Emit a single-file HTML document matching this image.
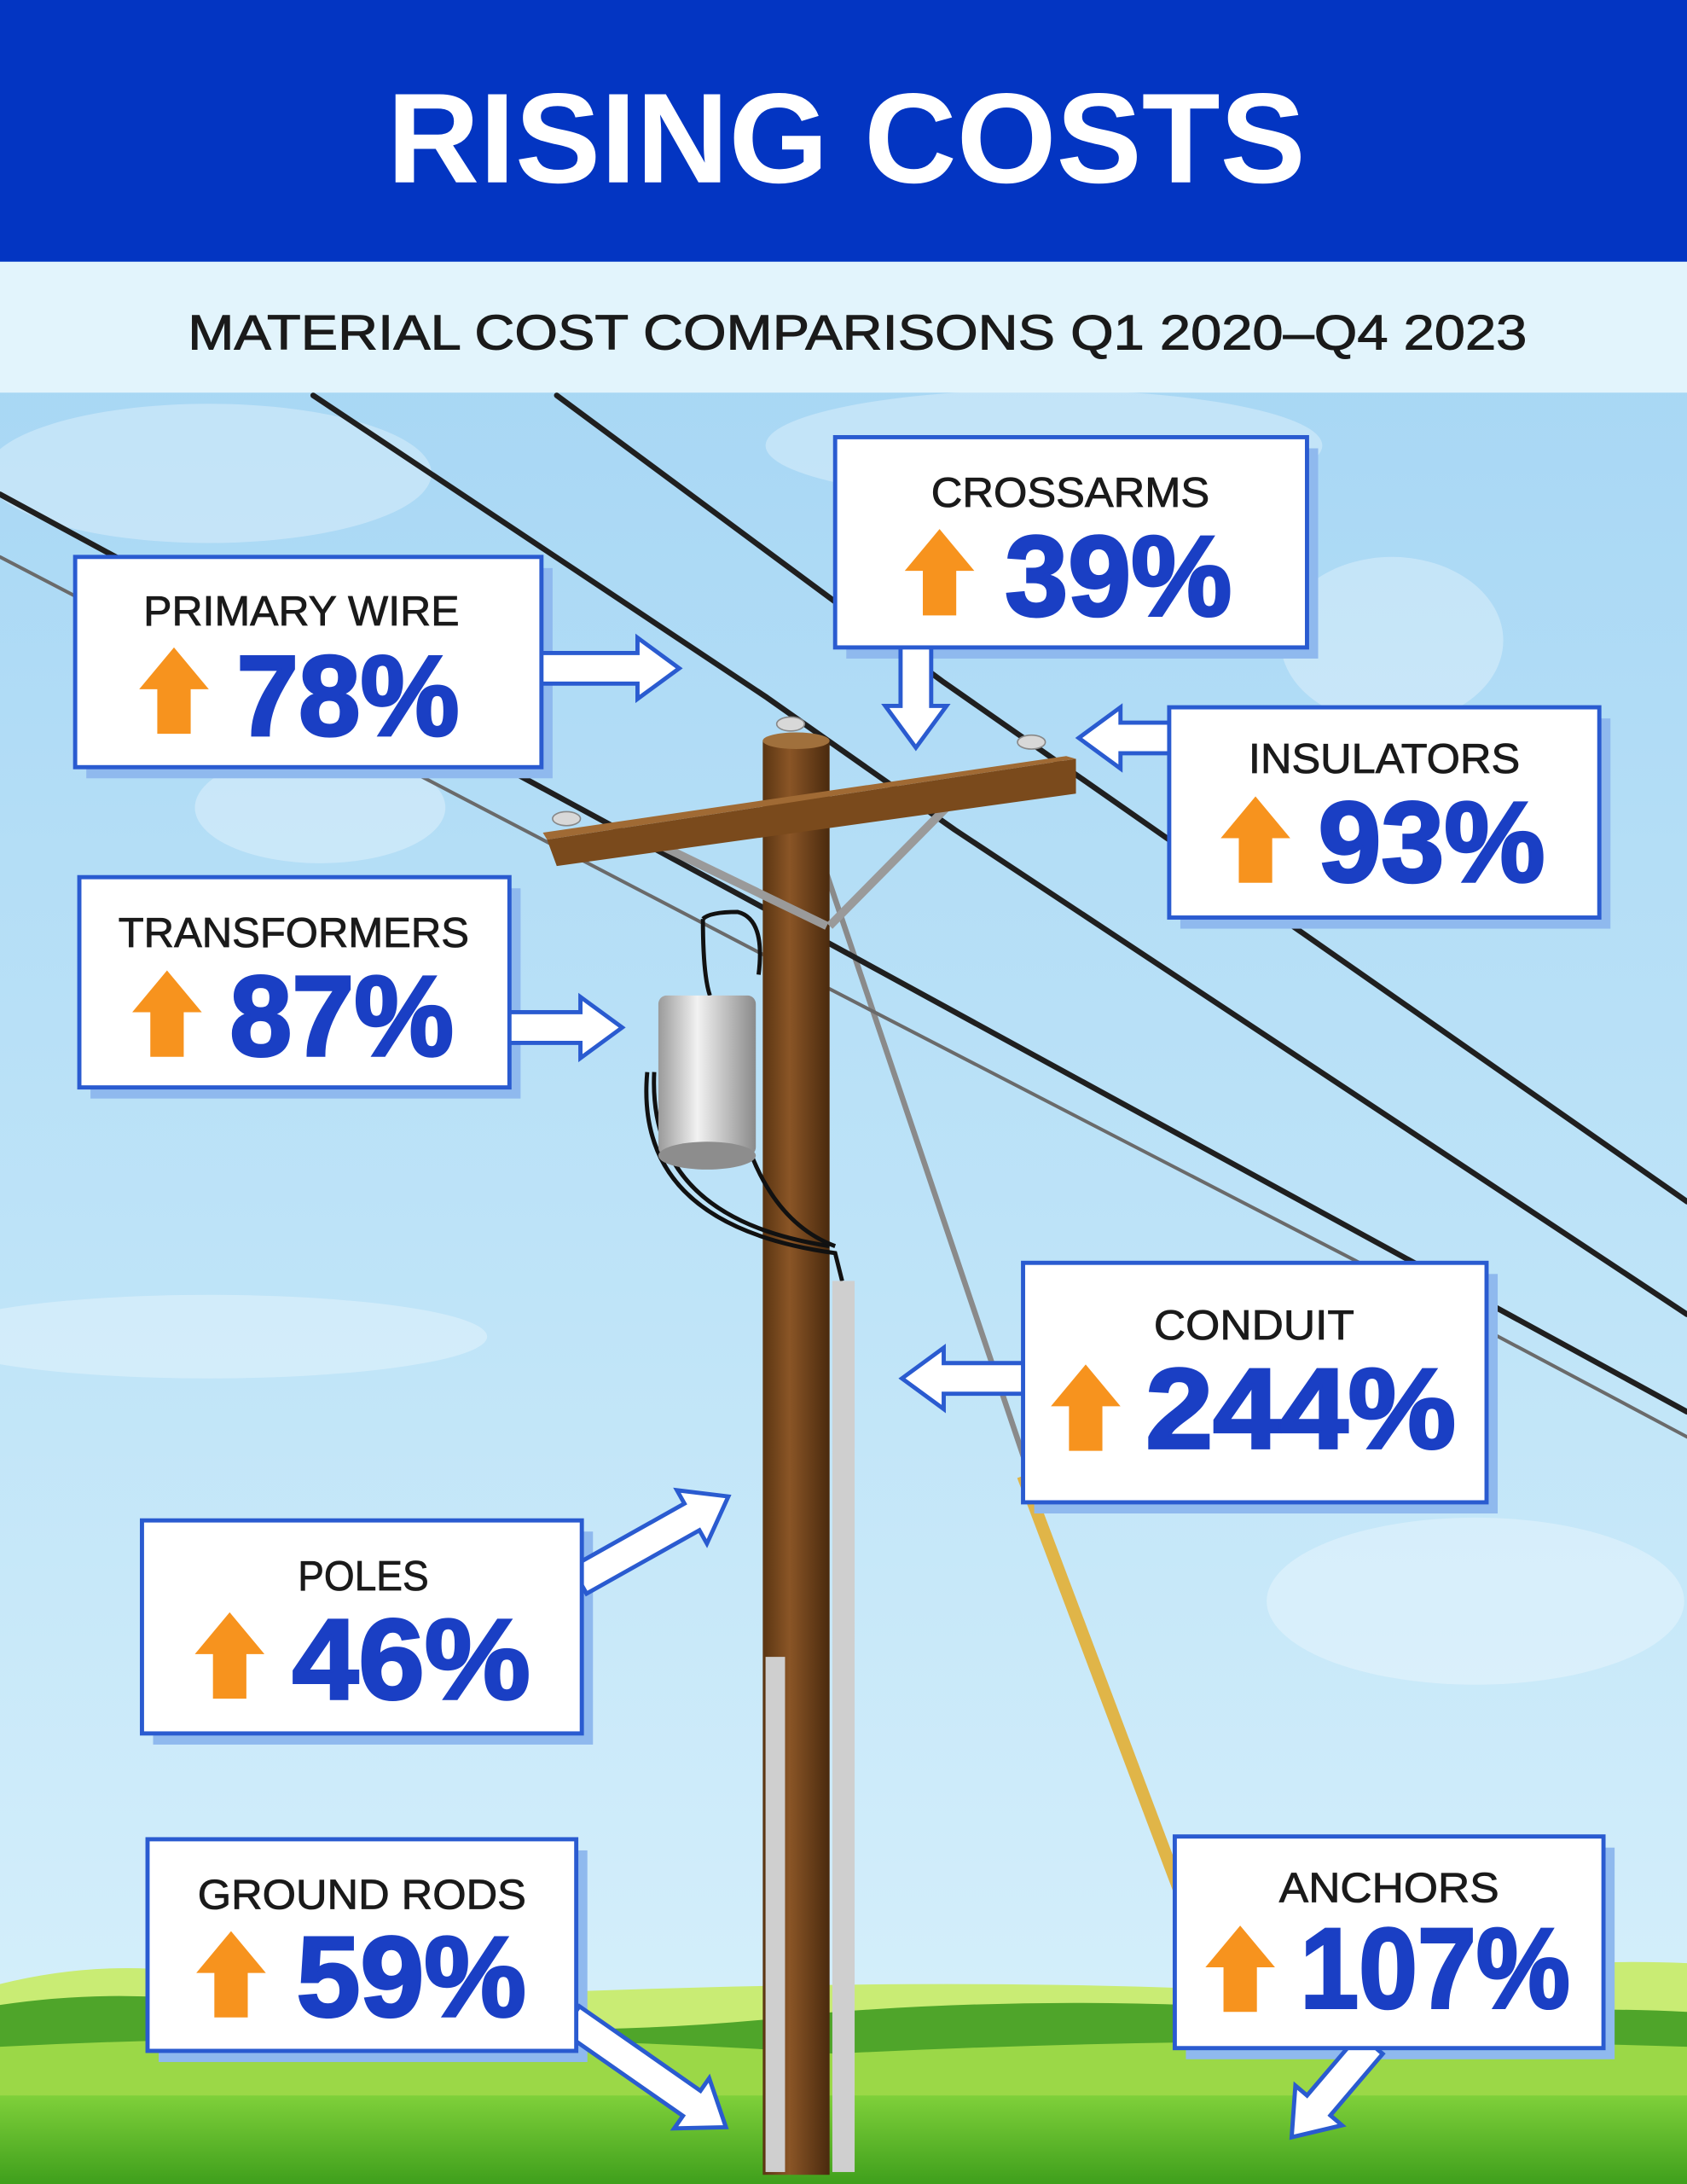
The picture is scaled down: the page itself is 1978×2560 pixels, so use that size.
<!DOCTYPE html>
<html><head><meta charset="utf-8"><style>
html,body{margin:0;padding:0;width:1978px;height:2560px;overflow:hidden}
svg{display:block}
</style></head><body>
<svg width="1978" height="2560" viewBox="0 0 1212 1568.6" preserveAspectRatio="none" xmlns="http://www.w3.org/2000/svg" font-family="Liberation Sans, sans-serif">
<defs>
<linearGradient id="sky" x1="0" y1="0" x2="0" y2="1">
<stop offset="0" stop-color="#9fd2f3"/><stop offset="0.6" stop-color="#bfe4f8"/><stop offset="1" stop-color="#d9f1fb"/>
</linearGradient>
<linearGradient id="pole" x1="0" y1="0" x2="1" y2="0">
<stop offset="0" stop-color="#5a3512"/><stop offset="0.4" stop-color="#8a5526"/><stop offset="1" stop-color="#4a2a0e"/>
</linearGradient>
<linearGradient id="grass" x1="0" y1="0" x2="0" y2="1">
<stop offset="0" stop-color="#7fd03a"/><stop offset="1" stop-color="#3f9f1c"/>
</linearGradient>
<linearGradient id="xf" x1="0" y1="0" x2="1" y2="0">
<stop offset="0" stop-color="#9a9a9a"/><stop offset="0.4" stop-color="#f2f2f2"/><stop offset="1" stop-color="#8a8a8a"/>
</linearGradient>
<g id="up"><polygon points="25,0 50,30 37,30 37,62 13,62 13,30 0,30" fill="#f7931e"/></g>
</defs>
<rect width="1212" height="1568.6" fill="url(#sky)"/>
<g fill="#ffffff" opacity="0.3">
<ellipse cx="150" cy="340" rx="160" ry="50"/><ellipse cx="750" cy="320" rx="200" ry="40"/>
<ellipse cx="1000" cy="460" rx="80" ry="60"/><ellipse cx="230" cy="580" rx="90" ry="40"/>
<ellipse cx="1060" cy="1150" rx="150" ry="60"/><ellipse cx="150" cy="960" rx="200" ry="30"/>
</g>
<rect x="0" y="0" width="1212" height="188" fill="#0335c2"/>
<text x="608" y="131" text-anchor="middle" font-size="92" font-weight="bold" fill="#fff" textLength="660" lengthAdjust="spacingAndGlyphs">RISING COSTS</text>
<rect x="0" y="188" width="1212" height="94" fill="#e2f4fc"/>
<text x="616" y="251" text-anchor="middle" font-size="35" fill="#1a1a1a" stroke="#1a1a1a" stroke-width="0.6" textLength="962" lengthAdjust="spacingAndGlyphs">MATERIAL COST COMPARISONS Q1 2020–Q4 2023</text>
<line x1="592" y1="622" x2="740" y2="1060" stroke="#8a8a8a" stroke-width="4"/>
<line x1="735" y1="1060" x2="918" y2="1545" stroke="#e0b548" stroke-width="9"/>
<g fill="none" stroke-linecap="round" stroke-linejoin="round">
<polyline points="225,284 551,501 686,596 1212,944" stroke="#1f1f1f" stroke-width="4"/>
<polyline points="400,284 678,490 1212,863" stroke="#1f1f1f" stroke-width="4"/>
<polyline points="0,355 591,675 1212,1014" stroke="#1f1f1f" stroke-width="4"/>
<polyline points="0,400 551,687 973,905 1212,1032" stroke="#6a6a6a" stroke-width="2.5"/>
</g>
<path d="M0,1425 Q80,1405 160,1420 Q300,1440 420,1430 Q700,1420 900,1430 Q1100,1405 1212,1410 L1212,1568.6 L0,1568.6Z" fill="#c9ec74"/>
<path d="M0,1440 Q100,1425 200,1445 Q400,1470 600,1445 Q800,1430 1000,1450 Q1120,1440 1212,1445 L1212,1568.6 L0,1568.6Z" fill="#4fa52a"/>
<path d="M0,1470 Q300,1455 600,1475 Q900,1460 1212,1470 L1212,1568.6 L0,1568.6Z" fill="#9bd847"/>
<rect x="0" y="1505" width="1212" height="64" fill="url(#grass)"/>
<rect x="548" y="532" width="48" height="1030" fill="url(#pole)"/>
<ellipse cx="572" cy="532" rx="24" ry="6" fill="#a0703c"/>
<line x1="470" y1="605" x2="594" y2="665" stroke="#9a9a9a" stroke-width="6"/>
<line x1="680" y1="580" x2="596" y2="665" stroke="#9a9a9a" stroke-width="6"/>
<polygon points="393,603 773,545 773,570 400,622" fill="#7a4a1c"/>
<polygon points="393,603 773,545 766,543 390,598" fill="#a06a34"/>
<g fill="#d8d8d8" stroke="#888" stroke-width="1">
<ellipse cx="407" cy="588" rx="10" ry="5"/><ellipse cx="568" cy="520" rx="10" ry="5"/><ellipse cx="741" cy="533" rx="10" ry="5"/>
</g>
<g fill="none" stroke="#111" stroke-width="3">
<path d="M505,660 Q505,700 510,715"/>
<path d="M545,700 Q550,660 530,655 Q510,655 505,660"/>
<path d="M465,770 Q455,880 600,900 L605,920"/>
<path d="M470,770 Q465,875 596,895"/>
<path d="M540,830 Q560,880 600,895"/>
</g>
<rect x="473" y="715" width="70" height="115" rx="6" fill="url(#xf)"/>
<ellipse cx="508" cy="830" rx="35" ry="10" fill="#8d8d8d"/>
<rect x="598" y="920" width="16" height="640" fill="#cfcfcf"/>
<rect x="550" y="1190" width="14" height="370" fill="#cfcfcf"/>
<g fill="#8fb9ee">
<rect x="62" y="408" width="335" height="151"/>
<rect x="608" y="322" width="339" height="151"/>
<rect x="848" y="516" width="309" height="151"/>
<rect x="65" y="638" width="309" height="151"/>
<rect x="743" y="915" width="333" height="172"/>
<rect x="110" y="1100" width="316" height="153"/>
<rect x="114" y="1329" width="308" height="152"/>
<rect x="852" y="1327" width="308" height="152"/>
</g>
<g fill="#fff" stroke="#2a5bd0" stroke-width="3" stroke-linejoin="miter">
<polygon transform="translate(388,480) rotate(0)" points="0,-11 70,-11 70,-22 100,0 70,22 70,11 0,11"/>
<polygon transform="translate(658,464) rotate(90)" points="0,-11 43,-11 43,-22 73,0 43,22 43,11 0,11"/>
<polygon transform="translate(842,530) rotate(180)" points="0,-11 37,-11 37,-22 67,0 37,22 37,11 0,11"/>
<polygon transform="translate(364,738) rotate(0)" points="0,-11 53,-11 53,-22 83,0 53,22 53,11 0,11"/>
<polygon transform="translate(737,990) rotate(180)" points="0,-11 59,-11 59,-22 89,0 59,22 59,11 0,11"/>
<polygon transform="translate(416,1135) rotate(-29.3)" points="0,-11 93,-11 93,-22 123,0 93,22 93,11 0,11"/>
<polygon transform="translate(410,1450) rotate(34.9)" points="0,-11 106,-11 106,-22 136,0 106,22 106,11 0,11"/>
<polygon transform="translate(985,1468) rotate(130.4)" points="0,-11 58,-11 58,-22 88,0 58,22 58,11 0,11"/>
</g>
<g fill="#fff" stroke="#2a5bd0" stroke-width="3">
<rect x="54" y="400" width="335" height="151"/>
<rect x="600" y="314" width="339" height="151"/>
<rect x="840" y="508" width="309" height="151"/>
<rect x="57" y="630" width="309" height="151"/>
<rect x="735" y="907" width="333" height="172"/>
<rect x="102" y="1092" width="316" height="153"/>
<rect x="106" y="1321" width="308" height="152"/>
<rect x="844" y="1319" width="308" height="152"/>
</g>
<g font-size="30" fill="#1a1a1a" stroke="#1a1a1a" stroke-width="0.5">
<text x="103" y="449" textLength="227" lengthAdjust="spacingAndGlyphs">PRIMARY WIRE</text>
<text x="669" y="364" textLength="200" lengthAdjust="spacingAndGlyphs">CROSSARMS</text>
<text x="897" y="555" textLength="195" lengthAdjust="spacingAndGlyphs">INSULATORS</text>
<text x="85" y="680" textLength="252" lengthAdjust="spacingAndGlyphs">TRANSFORMERS</text>
<text x="829" y="962" textLength="144" lengthAdjust="spacingAndGlyphs">CONDUIT</text>
<text x="214" y="1142" textLength="94" lengthAdjust="spacingAndGlyphs">POLES</text>
<text x="142" y="1371" textLength="236" lengthAdjust="spacingAndGlyphs">GROUND RODS</text>
<text x="919" y="1366" textLength="158" lengthAdjust="spacingAndGlyphs">ANCHORS</text>
</g>
<g font-size="82" font-weight="bold" fill="#1a3fc4" stroke="#1a3fc4" stroke-width="2">
<text x="170" y="528" textLength="160" lengthAdjust="spacingAndGlyphs">78%</text>
<text x="722" y="442" textLength="163" lengthAdjust="spacingAndGlyphs">39%</text>
<text x="947" y="633" textLength="163" lengthAdjust="spacingAndGlyphs">93%</text>
<text x="165" y="758" textLength="161" lengthAdjust="spacingAndGlyphs">87%</text>
<text x="823" y="1040" textLength="223" lengthAdjust="spacingAndGlyphs">244%</text>
<text x="210" y="1220" textLength="171" lengthAdjust="spacingAndGlyphs">46%</text>
<text x="213" y="1448" textLength="165" lengthAdjust="spacingAndGlyphs">59%</text>
<text x="934" y="1442" textLength="194" lengthAdjust="spacingAndGlyphs">107%</text>
</g>
<use href="#up" x="100" y="465"/>
<use href="#up" x="650" y="380"/>
<use href="#up" x="877" y="572"/>
<use href="#up" x="95" y="697"/>
<use href="#up" x="755" y="980"/>
<use href="#up" x="140" y="1158"/>
<use href="#up" x="141" y="1387"/>
<use href="#up" x="866" y="1383"/>
</svg>
</body></html>
